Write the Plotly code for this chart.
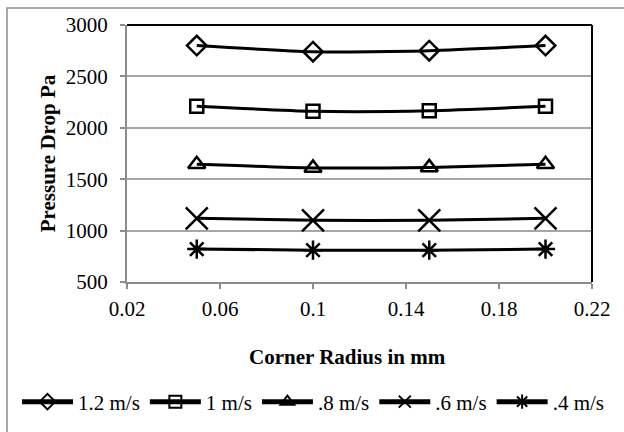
import plotly.graph_objects as go

# Corner radius (mm) and pressure drop (Pa) for each inlet velocity
corner_radius = [0.05, 0.10, 0.15, 0.20]
dp_1_2 = [2800, 2740, 2750, 2800]
dp_1_0 = [2210, 2160, 2165, 2210]
dp_0_8 = [1645, 1610, 1615, 1645]
dp_0_6 = [1120, 1100, 1100, 1120]
dp_0_4 = [820, 810, 810, 820]

series_names = ["1.2 m/s", "1 m/s", ".8 m/s", ".6 m/s", ".4 m/s"]
series_values = [dp_1_2, dp_1_0, dp_0_8, dp_0_6, dp_0_4]
symbols = ["diamond-open", "square-open", "triangle-up-open", "x-thin-open", "asterisk-open"]
sizes = [15, 13, 15, 22, 16]

x_ticks = [0.02, 0.06, 0.10, 0.14, 0.18, 0.22]
x_tick_text = ["0.02", "0.06", "0.1", "0.14", "0.18", "0.22"]
y_ticks = [500, 1000, 1500, 2000, 2500, 3000]

W, H = 624, 432
# plot box spans x 127..592, y 25..282; the layout area runs to the right edge
# so the one-row legend has room, and the x axis domain is trimmed instead
ML, MR, MT, MB = 127, 0, 25, 150
PLOT_RIGHT = 592
GW, GH = W - ML - MR, H - MT - MB

font_family = "Liberation Serif, Times New Roman, serif"
FS = 21

fig = go.Figure()
for name, vals, sym, sz in zip(series_names, series_values, symbols, sizes):
    fig.add_trace(go.Scatter(
        x=corner_radius, y=vals, name=name,
        mode="lines+markers",
        line=dict(color="black", width=3, shape="spline", smoothing=0.6),
        marker=dict(symbol=sym, size=sz, color="black",
                    line=dict(color="black", width=2.5)),
    ))

def px_x(p):
    return (p - ML) / GW

def px_y(p):
    return (H - MB - p) / GH

shapes = [
    # outer chart frame
    dict(type="rect", xref="paper", yref="paper",
         x0=px_x(7), x1=px_x(660), y0=px_y(470), y1=px_y(8),
         line=dict(color="#8c8c8c", width=1.5), layer="below"),
    # plot area frame (top and right)
    dict(type="line", xref="x domain", yref="y domain", x0=0, x1=1, y0=1, y1=1,
         line=dict(color="black", width=2)),
    dict(type="line", xref="x domain", yref="y domain", x0=1, x1=1, y0=0, y1=1,
         line=dict(color="black", width=2)),
]

annotations = [
    dict(text="<b>Corner Radius in mm</b>", xref="paper", yref="paper",
         x=px_x(347), y=px_y(357), xanchor="center", yanchor="middle",
         showarrow=False, font=dict(family=font_family, size=FS)),
]

fig.update_layout(
    width=W, height=H,
    margin=dict(l=ML, r=MR, t=MT, b=MB, autoexpand=False),
    paper_bgcolor="white", plot_bgcolor="white",
    font=dict(family=font_family, size=FS, color="black"),
    showlegend=True,
    legend=dict(orientation="h", x=px_x(17), xanchor="left",
                y=px_y(402), yanchor="middle",
                font=dict(family=font_family, size=FS),
                itemwidth=51, itemsizing="constant", tracegroupgap=0,
                borderwidth=0, bgcolor="rgba(0,0,0,0)"),
    xaxis=dict(domain=[0, (PLOT_RIGHT - ML) / GW],
               range=[0.02, 0.22], tickvals=x_ticks, ticktext=x_tick_text,
               showgrid=False, zeroline=False,
               showline=True, linecolor="#8c8c8c", linewidth=2,
               ticks="outside", ticklen=5, tickcolor="#8c8c8c", tickwidth=1.5,
               ticklabelstandoff=2,
               tickfont=dict(size=FS)),
    yaxis=dict(range=[500, 3000], tickvals=y_ticks,
               showgrid=True, gridcolor="#a6a6a6", gridwidth=1.5,
               zeroline=False,
               showline=True, linecolor="#8c8c8c", linewidth=2,
               ticks="outside", ticklen=5, tickcolor="#8c8c8c", tickwidth=1.5,
               ticklabelstandoff=8,
               tickfont=dict(size=FS),
               title=dict(text="<b>Pressure Drop Pa</b>",
                          font=dict(size=FS), standoff=4)),
    shapes=shapes,
    annotations=annotations,
)

fig.write_html("out.html")
